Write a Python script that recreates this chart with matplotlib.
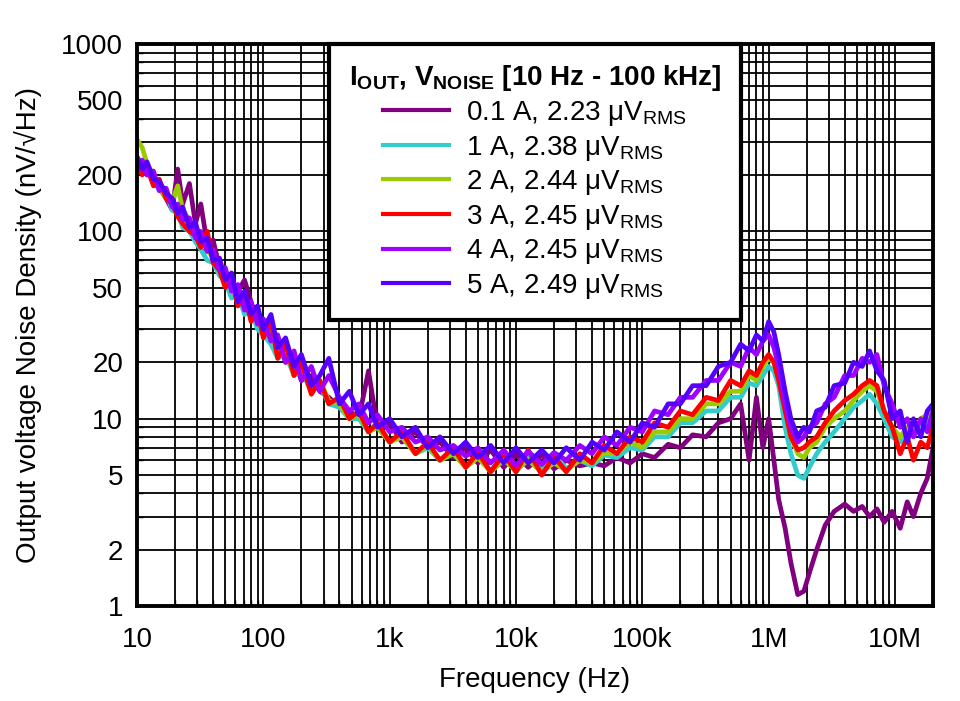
import matplotlib
matplotlib.use("Agg")
import matplotlib.pyplot as plt
from matplotlib.ticker import LogLocator, NullFormatter

plt.rcParams['font.family'] = ['Liberation Sans', 'DejaVu Sans']
plt.rcParams['mathtext.fontset'] = 'custom'
plt.rcParams['mathtext.rm'] = 'Liberation Sans'
plt.rcParams['mathtext.bf'] = 'Liberation Sans:bold'
plt.rcParams['mathtext.it'] = 'Liberation Sans:italic'

# frequency points (Hz)
freq = [10, 11, 12, 13.5, 15, 17, 19, 21, 23, 26,
        29, 32, 36, 40, 45, 50, 56, 63, 71, 80,
        90, 100, 115, 130, 150, 175, 200, 240, 280, 330,
        400, 480, 570, 680, 800, 1000, 1250, 1600, 2000, 2500,
        3200, 4000, 5000, 6300, 8000, 10000, 12500, 16000, 20000, 25000,
        32000, 40000, 50000, 63000, 80000, 100000, 125000, 160000, 200000, 250000,
        320000, 400000, 500000, 600000, 700000, 800000, 900000, 1000000, 1100000, 1200000,
        1350000, 1500000, 1700000, 1900000, 2100000, 2400000, 2800000, 3300000, 4000000, 4700000,
        5500000, 6300000, 7200000, 8200000, 9500000, 11000000, 12500000, 14000000, 16000000, 18000000,
        20000000]

# noise density (nV/rtHz)
n_01a = [240, 210, 220, 180, 170, 150, 130, 215, 140, 180,
         110, 140, 85, 90, 64, 58, 50, 48, 55, 42,
         32, 34, 26, 27, 20, 21, 16, 17, 14, 13,
         11.5, 11, 10, 18, 9, 9.5, 7.5, 8.5, 7, 7.5,
         6.2, 7, 5.8, 6.8, 5.5, 6.5, 5.5, 6.4, 5.4, 6,
         5.6, 5.8, 5.6, 6.2, 5.8, 6.5, 6.2, 7.3, 7, 8.2,
         8, 9.5, 10, 12, 6, 13, 7, 10, 6, 3.7,
         2.6, 1.7, 1.15, 1.2, 1.5, 2, 2.7, 3.2, 3.5, 3.2,
         3.4, 3, 3.3, 2.8, 3.2, 2.6, 3.6, 3, 4, 4.8,
         7]
n_1a = [250, 230, 200, 195, 165, 160, 130, 125, 105, 100,
        88, 80, 70, 68, 58, 54, 44, 46, 36, 38,
        30, 28, 25, 21, 22, 17, 18, 14, 15, 12,
        11.5, 10, 10, 8.5, 9, 7.5, 8, 6.5, 7, 6,
        6.5, 5.5, 6.2, 5.3, 6.2, 5.2, 6.2, 5.5, 6.5, 5.4,
        6, 5.6, 6.4, 6.2, 7, 6.8, 8, 8, 9.5, 9.5,
        11, 11, 13, 13, 15.5, 15, 17, 19, 18, 15,
        9, 6.5, 5, 4.8, 5.5, 6.5, 7.5, 8.5, 10, 11.5,
        12.5, 13.5, 12, 10, 8, 7.5, 8.5, 8, 9.5, 9.5,
        10.5]
n_2a = [310, 280, 230, 200, 170, 150, 145, 175, 130, 115,
        100, 88, 80, 72, 66, 52, 56, 42, 44, 36,
        37, 28, 30, 22, 24, 17, 19, 14, 16, 12.5,
        12, 10, 10.5, 8.5, 9, 7.5, 8, 6.5, 7.2, 6,
        6.5, 5.5, 6.2, 5.2, 6, 5.3, 6, 5.2, 5.8, 5.3,
        6, 5.8, 6.6, 6.5, 7.5, 7, 8.5, 8.5, 10, 10,
        12, 12, 14, 14, 17, 16, 19, 21, 20, 17,
        11, 8, 6.5, 6.2, 7, 7.5, 9, 10, 11, 12.5,
        14, 15, 14, 11, 9, 8, 9, 8.5, 10, 10.5,
        11]
n_3a = [240, 200, 220, 175, 190, 150, 140, 120, 110, 100,
        95, 82, 100, 68, 62, 50, 55, 40, 46, 33,
        38, 27, 33, 21, 25, 17, 20, 13.5, 16, 12,
        13, 10, 11, 8.5, 9.5, 7.5, 8.5, 6.5, 7.5, 6,
        7, 5.5, 6.6, 5.2, 6.5, 5.2, 6.8, 5, 6.3, 5.2,
        6.5, 5.8, 7.2, 6.5, 8, 7.5, 9.5, 9, 11, 10.5,
        13, 12.5, 16, 15, 18, 17, 20, 22, 20, 16,
        11, 8, 6.8, 7, 7.5, 8, 9.5, 11, 12.5, 13.5,
        15, 16, 15, 11, 9, 6.5, 8, 6, 7.5, 7,
        9]
n_4a = [230, 240, 200, 210, 165, 170, 135, 140, 115, 118,
        92, 100, 78, 80, 62, 64, 48, 52, 38, 42,
        32, 34, 26, 28, 20, 23, 16, 19, 14, 17,
        13, 11, 12, 9.5, 10.5, 8.5, 9, 7.5, 8, 6.8,
        7.2, 6.3, 7, 5.8, 6.8, 5.6, 6.7, 5.7, 6.6, 6,
        7.2, 6.5, 8, 7.2, 9, 8.5, 11, 10.5, 13, 13,
        16, 16, 20, 19, 24, 22, 26, 28, 24, 19,
        12, 9, 7.5, 8, 9, 9.5, 12, 13, 17, 17,
        21, 20, 22, 15, 12, 9, 10, 8, 10, 8.5,
        11]
n_5a = [250, 215, 235, 190, 185, 160, 150, 125, 135, 105,
        112, 88, 92, 70, 72, 55, 60, 42, 48, 36,
        40, 30, 36, 24, 27, 19, 22, 15, 17, 21,
        12, 14, 10.5, 12, 9, 10, 8, 9, 7, 8,
        6.5, 7.5, 6.2, 7.2, 5.8, 7, 5.8, 6.8, 5.8, 7,
        6, 7.5, 6.8, 8.5, 7.5, 9.5, 9, 12, 12, 15,
        15, 19, 20, 25, 23, 28, 26, 33, 29, 22,
        14, 10, 8, 9, 8.5, 11, 11.5, 15, 15.5, 20,
        19, 23, 18, 16, 10, 11, 7.5, 10, 8, 11,
        12]

series = [n_01a, n_1a, n_2a, n_3a, n_4a, n_5a]
labels = ["0.1 A, 2.23 \u03bcV$_{\\mathrm{RMS}}$",
          "1 A, 2.38 \u03bcV$_{\\mathrm{RMS}}$",
          "2 A, 2.44 \u03bcV$_{\\mathrm{RMS}}$",
          "3 A, 2.45 \u03bcV$_{\\mathrm{RMS}}$",
          "4 A, 2.45 \u03bcV$_{\\mathrm{RMS}}$",
          "5 A, 2.49 \u03bcV$_{\\mathrm{RMS}}$"]
colors = ['#800080', '#33CCCC', '#99CC00', '#FF0000', '#A000FF', '#5500FF']

xticks = [10, 100, 1e3, 1e4, 1e5, 1e6, 1e7]
xticklabels = ['10', '100', '1k', '10k', '100k', '1M', '10M']
yticks = [1, 2, 5, 10, 20, 50, 100, 200, 500, 1000]
yticklabels = ['1', '2', '5', '10', '20', '50', '100', '200', '500', '1000']

fig = plt.figure(figsize=(9.6, 7.01), dpi=100)
ax = fig.add_axes([0.1427, 0.1355, 0.8292, 0.8017])

for vals, lab, col in zip(series, labels, colors):
    ax.plot(freq, vals, color=col, lw=3.4, label=lab)

ax.set_xscale('log')
ax.set_yscale('log')
ax.set_xlim(10, 20e6)
ax.set_ylim(1, 1000)

ax.set_xticks(xticks)
ax.set_xticklabels(xticklabels)
ax.xaxis.set_minor_locator(LogLocator(base=10, subs=range(2, 10), numticks=20))
ax.xaxis.set_minor_formatter(NullFormatter())
ax.set_yticks(yticks)
ax.set_yticklabels(yticklabels)
ax.yaxis.set_minor_locator(LogLocator(base=10, subs=range(2, 10), numticks=20))
ax.yaxis.set_minor_formatter(NullFormatter())

ax.grid(which='both', color='black', lw=1.3)
ax.set_axisbelow(True)
ax.tick_params(which='both', direction='in', labelsize=20, width=1, color='black')
ax.tick_params(which='major', length=0)
ax.tick_params(which='minor', length=4)
ax.tick_params(axis='x', pad=15)
ax.tick_params(axis='y', pad=10)
for sp in ax.spines.values():
    sp.set_linewidth(2.8)

ax.set_xlabel('Frequency (Hz)', fontsize=20, labelpad=10)
ax.set_ylabel('Output voltage Noise Density (nV/\u221aHz)', fontsize=20, labelpad=14)

leg = ax.legend(loc='upper center', bbox_to_anchor=(0.5, 1.0), borderaxespad=0,
                fontsize=20, title='I$_{\\mathbf{OUT}}$, V$_{\\mathbf{NOISE}}$ [10 Hz - 100 kHz]',
                title_fontproperties={'size': 20, 'weight': 'bold'},
                fancybox=False, framealpha=1, edgecolor='black',
                handlelength=2.4, handletextpad=0.6, labelspacing=0.2,
                borderpad=0.7)
leg.get_frame().set_linewidth(3)
for line in leg.get_lines():
    line.set_linewidth(3)

fig.savefig('out.png', dpi=100)
